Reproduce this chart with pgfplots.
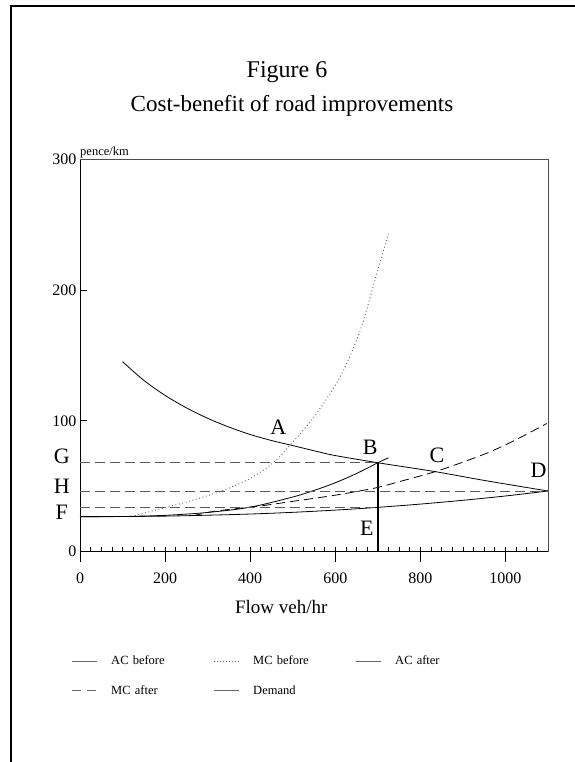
\documentclass[border=0pt]{standalone}
\usepackage{fontspec}
\setmainfont{Liberation Serif}
\usepackage{pgfplots}
\pgfplotsset{compat=1.18}
\begin{document}
\begin{tikzpicture}
\useasboundingbox (-80pt,-210.3pt) rectangle (494pt,551.7pt);
\draw[line width=2pt] (-69pt,-212pt) -- (-69pt,545.7pt) -- (496pt,545.7pt);
\node[anchor=base, font=\fontsize{24}{26}\selectfont] at (207pt,474.2pt) {Figure 6};
\node[anchor=base, font=\fontsize{23}{26}\selectfont] at (212pt,440.2pt) {Cost-benefit of road improvements};
\node[anchor=base west, inner sep=0pt, font=\fontsize{12.5}{14}\selectfont] at (0pt,395.7pt) {pence/km};
\begin{axis}[
  scale only axis, width=468pt, height=392.4pt,
  xmin=0, xmax=1100, ymin=0, ymax=300,
  clip=false,
  axis x line*=bottom, axis y line*=left,
  axis line style={-, black, line width=0.9pt},
  xtick={0,200,...,1000},
  minor xtick={0,25,...,1100},
  ytick=\empty,
  extra y ticks={0,100,200,300},
  extra y tick style={major tick length=7pt, tick align=inside},
  major tick length=15pt,
  minor tick length=5pt,
  xtick align=outside,
  major x tick style={yshift=5pt, black, line width=0.8pt},
  minor x tick style={yshift=5pt, black, line width=0.8pt},
  every tick/.style={black, line width=0.8pt},
  /pgf/number format/assume math mode=true,
  /pgf/number format/1000 sep={},
  tick label style={font=\fontsize{16}{18}\selectfont},
  xticklabel style={yshift=-3pt},
  legend columns=3,
  legend cell align=left,
  legend image code/.code={\draw[#1] (0pt,0pt) -- (25pt,0pt);},
  legend style={draw=none, fill=none, at={(-0.026,-0.255)}, anchor=north west,
    font=\fontsize{12.5}{14}\selectfont, row sep=15pt,
    /tikz/every odd column/.append style={column sep=12pt},
    /tikz/every even column/.append style={text width=100pt}},
]
% Demand
\addplot[black, line width=0.8pt, smooth, forget plot] coordinates {
(100,145.3) (150,131) (200,119.5) (250,110) (300,102) (350,95.3) (400,89.6) (450,85) (494,81.6) (565,76) (600,73.5) (700,68) (835,61.2) (950,54.5) (1100,46.4)};
% AC before
\addplot[black, line width=0.8pt, smooth, forget plot] coordinates {
(0,26.8) (100,26.9) (200,27.8) (300,30.0) (400,34.0) (500,41.8) (550,46.8) (600,52.7) (650,59.8) (700,68) (725,71.8)};
% MC before
\addplot[gray!70!black, line width=0.9pt, dash pattern=on 0.9pt off 2.6pt, smooth, forget plot] coordinates {
(121,26.8) (180,32) (250,38) (329,46) (400,56) (454,68) (494,81.6) (550,103) (612,134) (659,169.6) (698,213) (725,243)};
% AC after
\addplot[black, line width=0.8pt, smooth, forget plot] coordinates {
(0,26.8) (100,26.9) (200,27.2) (300,27.9) (400,28.8) (500,30.1) (600,31.8) (700,33.9) (800,36.4) (900,39.3) (1000,42.6) (1100,46.4)};
% MC after
\addplot[black, line width=0.8pt, dash pattern=on 9pt off 5pt, smooth, forget plot] coordinates {
(266,27.5) (306,30.4) (350,32.3) (431,35.3) (500,38.5) (588,42.6) (650,46) (698,49) (750,53.5) (835,61.2) (900,68.5) (965,76.5) (1030,86.5) (1097,98)};
% reference lines
\addplot[gray!70!black, line width=1pt, dash pattern=on 10pt off 5pt, forget plot] coordinates {(0,68) (700,68)};
\addplot[gray!70!black, line width=1pt, dash pattern=on 10pt off 5pt, forget plot] coordinates {(0,46.4) (1100,46.4)};
\addplot[gray!70!black, line width=1pt, dash pattern=on 10pt off 5pt, forget plot] coordinates {(0,33.9) (700,33.9)};
\addplot[black, line width=2pt, forget plot] coordinates {(700,0) (700,68)};
% box top/right
\draw[gray!60!black, line width=0.9pt] (rel axis cs:0,1) -- (rel axis cs:1,1) -- (rel axis cs:1,0);
% labels
\node[font=\fontsize{22}{24}\selectfont] at (axis cs:466,95) {A};
\node[font=\fontsize{22}{24}\selectfont] at (axis cs:682,80) {B};
\node[font=\fontsize{22}{24}\selectfont] at (axis cs:839,74) {C};
\node[font=\fontsize{22}{24}\selectfont] at (axis cs:1078,62.5) {D};
\node[font=\fontsize{22}{24}\selectfont] at (axis cs:674,18) {E};
\node[font=\fontsize{22}{24}\selectfont] at (axis cs:-43,73.2) {G};
\node[font=\fontsize{22}{24}\selectfont] at (axis cs:-43,49.7) {H};
\node[font=\fontsize{22}{24}\selectfont] at (axis cs:-43,30.3) {F};
\node[font=\fontsize{19}{22}\selectfont] at (axis cs:473,0) [yshift=-55.3pt] {Flow veh/hr};
% legend
\addlegendimage{gray!80!black, line width=1pt}
\addlegendentry{AC before}
\addlegendimage{gray!80!black, line width=0.9pt, dash pattern=on 0.8pt off 2.2pt}
\addlegendentry{MC before}
\addlegendimage{gray!80!black, line width=1pt}
\addlegendentry{AC after}
\addlegendimage{gray!80!black, line width=1.2pt, dash pattern=on 9pt off 6pt}
\addlegendentry{MC after}
\addlegendimage{gray!80!black, line width=1pt}
\addlegendentry{Demand}
\end{axis}
\end{tikzpicture}
\end{document}
